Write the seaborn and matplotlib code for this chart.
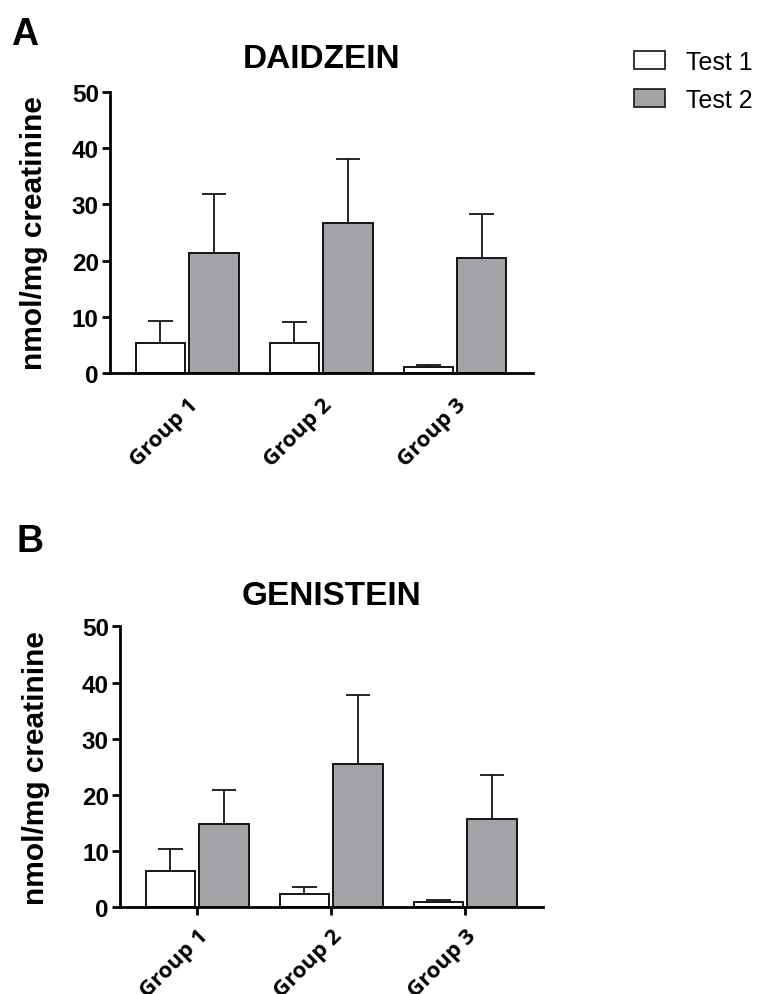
import matplotlib
matplotlib.use("Agg")
import matplotlib.pyplot as plt
import matplotlib.patches as mpatches
import seaborn as sns
import pandas as pd

groups = ["Group 1", "Group 2", "Group 3"]
tests = ["Test 1", "Test 2"]

daidzein_test1 = [5.3, 5.3, 1.1]
daidzein_test2 = [21.3, 26.7, 20.5]
daidzein_sd1 = [3.9, 3.8, 0.3]
daidzein_sd2 = [10.6, 11.3, 7.7]

genistein_test1 = [6.4, 2.3, 1.0]
genistein_test2 = [14.8, 25.5, 15.7]
genistein_sd1 = [4.0, 1.4, 0.35]
genistein_sd2 = [6.1, 12.3, 7.9]

yticks = [0, 10, 20, 30, 40, 50]
ylabel = "nmol/mg creatinine"

sns.set_theme(style="ticks")
plt.rcParams["font.family"] = ["Liberation Sans", "DejaVu Sans"]
plt.rcParams["text.color"] = "black"
plt.rcParams["axes.labelcolor"] = "black"
plt.rcParams["xtick.color"] = "black"
plt.rcParams["ytick.color"] = "black"

fill = {"Test 1": "#ffffff", "Test 2": "#a3a3a7"}
edge = "#141414"

fig = plt.figure(figsize=(7.58, 9.95), dpi=100)
axA = fig.add_axes([0.1451, 0.6241, 0.5577, 0.2827])
axB = fig.add_axes([0.1583, 0.0871, 0.558, 0.2824])


def panel(ax, v1, v2, s1, s2, title, xticklen, tpad, lpad):
    df = pd.DataFrame({
        "group": groups * 2,
        "test": [tests[0]] * 3 + [tests[1]] * 3,
        "value": list(v1) + list(v2),
    })
    sns.barplot(data=df, x="group", y="value", hue="test", order=groups,
                hue_order=tests, palette=fill, edgecolor=edge, linewidth=1.4,
                errorbar=None, width=0.8, gap=0.08, legend=False, ax=ax,
                saturation=1)
    for cont, sds in zip(ax.containers, [s1, s2]):
        for p, sd in zip(cont.patches, sds):
            xc = p.get_x() + p.get_width() / 2
            top = p.get_height()
            ax.vlines(xc, top, top + sd, color=edge, lw=1.3, zorder=1)
            ax.hlines(top + sd, xc - p.get_width() / 4, xc + p.get_width() / 4,
                      color=edge, lw=1.3, zorder=1)
    ax.set_ylim(0, 50)
    ax.set_xlim(-0.576, 2.58)
    ax.set_yticks(yticks)
    ax.set_yticklabels([str(t) for t in yticks], fontsize=17.5, fontweight="bold")
    ax.set_xticks(range(len(groups)))
    ax.set_xticklabels(groups, rotation=45, ha="right", rotation_mode="anchor",
                       fontsize=16, fontweight="bold", family=["Open Sans", "DejaVu Sans"])
    ax.set_xlabel("")
    ax.set_ylabel(ylabel, fontsize=21.5, fontweight="bold", labelpad=lpad)
    ax.set_title(title, fontsize=24, fontweight="bold", pad=tpad)
    for s in ["top", "right"]:
        ax.spines[s].set_visible(False)
    for s in ["left", "bottom"]:
        ax.spines[s].set_linewidth(2.0)
        ax.spines[s].set_color("black")
    ax.tick_params(axis="y", length=6, width=2.0, color="black", pad=2)
    ax.tick_params(axis="x", length=xticklen, width=2.0, color="black",
                   pad=(15 if xticklen == 0 else 7))
    ax.set_facecolor("white")


panel(axA, daidzein_test1, daidzein_test2, daidzein_sd1, daidzein_sd2,
      "DAIDZEIN", 0, 18, 17.5)
panel(axB, genistein_test1, genistein_test2, genistein_sd1, genistein_sd2,
      "GENISTEIN", 6, 16, 23)

fig.text(0.015, 0.965, "A", fontsize=27, fontweight="bold", va="center", ha="left")
fig.text(0.022, 0.455, "B", fontsize=27, fontweight="bold", va="center", ha="left")

handles = [mpatches.Patch(facecolor=fill[t], edgecolor=edge, linewidth=1.2, label=t)
           for t in tests]
fig.legend(handles=handles, loc="upper left", bbox_to_anchor=(0.823, 0.959),
           frameon=False, fontsize=18, handlelength=1.25, handleheight=0.75,
           labelspacing=0.55, handletextpad=0.85, borderaxespad=0.0)

fig.savefig("out.png", dpi=100, facecolor="white")
